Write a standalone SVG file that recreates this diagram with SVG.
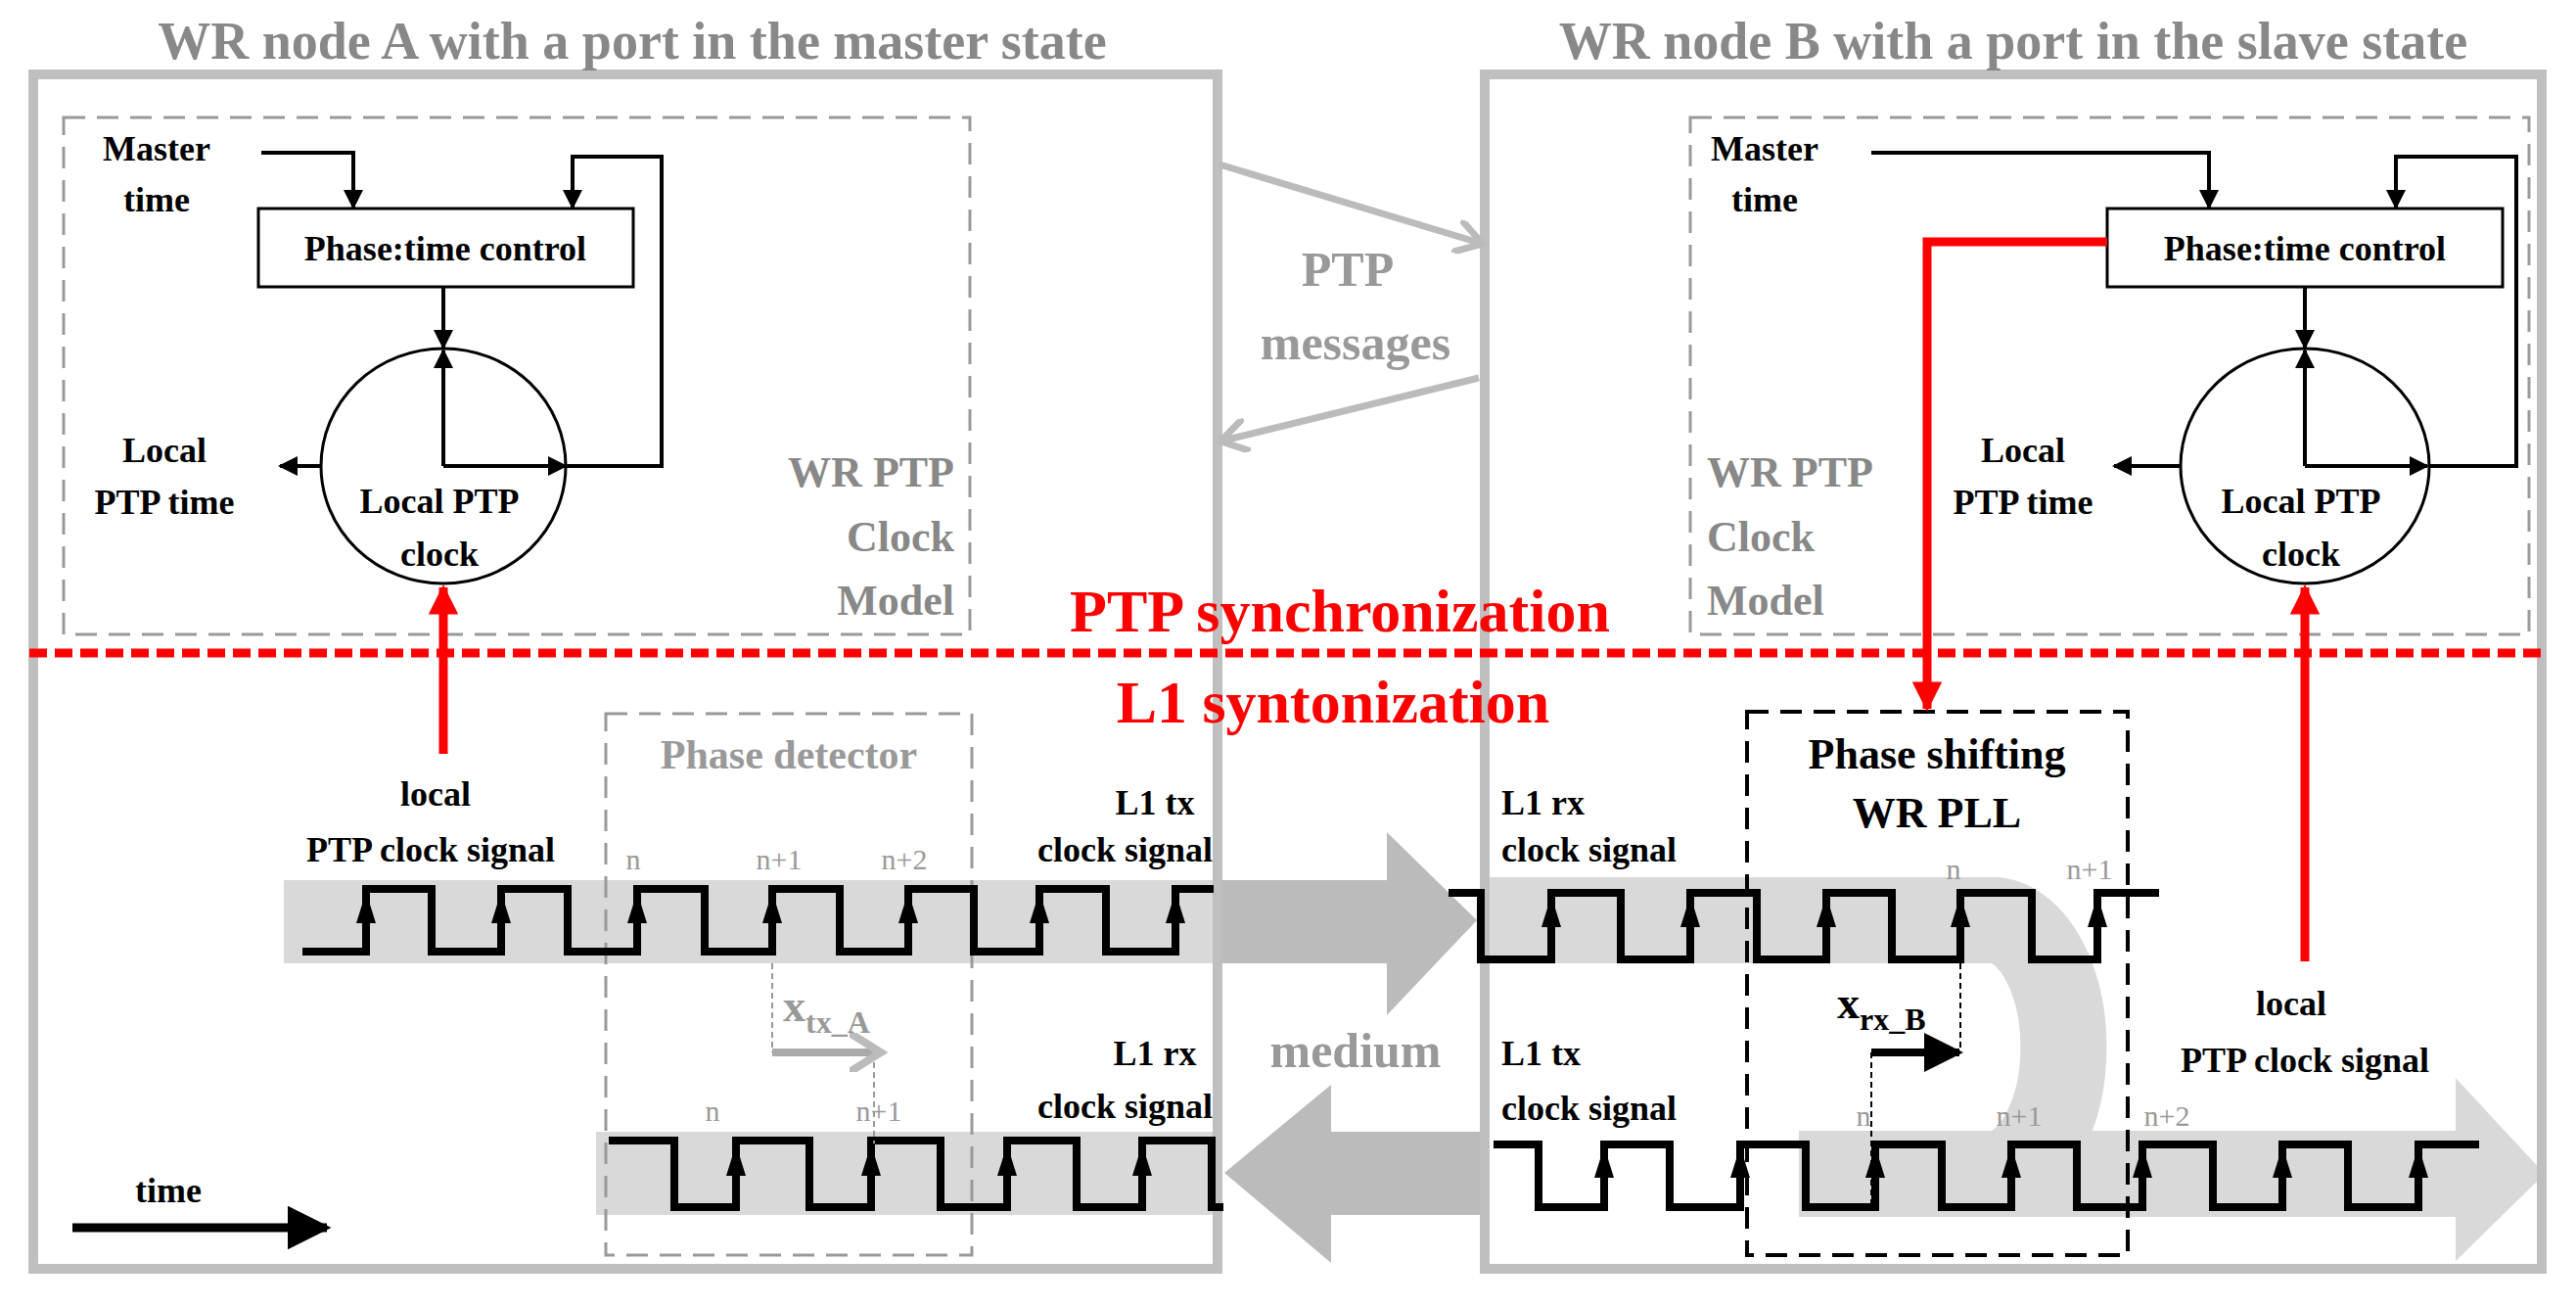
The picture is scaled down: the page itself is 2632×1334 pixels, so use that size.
<svg xmlns="http://www.w3.org/2000/svg" width="2632" height="1334" viewBox="0 0 2632 1334">
<defs>
<style>
text{font-family:"Liberation Serif","Times New Roman",serif;font-weight:bold}
.t{font-size:36px;fill:#000}
.g{font-size:44px;fill:#888}
.s{font-size:30px;fill:#999;font-weight:normal}
.red{fill:#f00;font-size:62px}
.blk{stroke:#000;stroke-width:4;fill:none}
.wave{stroke:#000;stroke-width:8;fill:none;stroke-linejoin:miter}
</style>
<marker id="ah" viewBox="0 0 10 10" refX="9" refY="5" markerWidth="5" markerHeight="5" orient="auto"><path d="M0 0L10 5L0 10Z" fill="#000"/></marker>
<marker id="ahg" viewBox="0 0 10 10" refX="6" refY="5" markerWidth="5" markerHeight="5" orient="auto"><path d="M0 0L8 5L0 10" fill="none" stroke="#bbb" stroke-width="2"/></marker>
<marker id="ahr" viewBox="0 0 10 10" refX="9" refY="5" markerWidth="3.4" markerHeight="3.4" orient="auto"><path d="M0 0L10 5L0 10Z" fill="#f00"/></marker>
<path id="up" d="M0 -24L-10 8L10 8Z" fill="#000"/>
</defs>
<rect width="2632" height="1334" fill="#fff"/>

<g id="bands">
<rect x="290" y="899" width="956" height="85" fill="#d9d9d9"/>
<path d="M1517 940H2040A75 130 0 0 1 2040 1199" fill="none" stroke="#d9d9d9" stroke-width="88"/>
<rect x="1838" y="1155" width="672" height="88" fill="#d9d9d9"/>
<path d="M2509 1101L2600 1199L2509 1288Z" fill="#d9d9d9"/>
<rect x="609" y="1156" width="637" height="85" fill="#d9d9d9"/>
<path d="M1246 899H1417V850L1509 940L1417 1037V984H1246Z" fill="#bbb"/>
<path d="M1517 1156H1360V1108L1251 1198L1360 1290V1241H1517Z" fill="#bbb"/>
</g>

<g id="nodeA">
<rect x="34" y="76" width="1210" height="1220" fill="none" stroke="#bfbfbf" stroke-width="10"/>
<text x="646" y="60" text-anchor="middle" style="font-size:54px;fill:#888">WR node A with a port in the master state</text>
</g>
<g id="nodeB">
<rect x="1517" y="76" width="1080" height="1220" fill="none" stroke="#bfbfbf" stroke-width="10"/>
<text x="2057" y="60" text-anchor="middle" style="font-size:54px;fill:#888">WR node B with a port in the slave state</text>
</g>

<g id="modelA">
<rect x="65" y="120" width="926" height="528" fill="none" stroke="#999" stroke-width="3" stroke-dasharray="22,12"/>
<text class="t" x="160" y="164" text-anchor="middle">Master</text>
<text class="t" x="160" y="216" text-anchor="middle">time</text>
<rect x="264" y="213" width="383" height="80" fill="#fff" stroke="#000" stroke-width="3"/>
<text class="t" x="455" y="266" text-anchor="middle">Phase:time control</text>
<ellipse cx="453" cy="476" rx="125" ry="120" fill="none" stroke="#000" stroke-width="3"/>
<text class="t" x="449" y="524" text-anchor="middle">Local PTP</text>
<text class="t" x="449" y="578" text-anchor="middle">clock</text>
<text class="t" x="168" y="472" text-anchor="middle">Local</text>
<text class="t" x="168" y="525" text-anchor="middle">PTP time</text>
<text class="g" x="975" y="497" text-anchor="end">WR PTP</text>
<text class="g" x="975" y="563" text-anchor="end">Clock</text>
<text class="g" x="975" y="628" text-anchor="end">Model</text>
</g>

<g id="modelB">
<rect x="1727" y="120" width="857" height="528" fill="none" stroke="#999" stroke-width="3" stroke-dasharray="22,12"/>
<text class="t" x="1803" y="164" text-anchor="middle">Master</text>
<text class="t" x="1803" y="216" text-anchor="middle">time</text>
<rect x="2153" y="213" width="404" height="80" fill="#fff" stroke="#000" stroke-width="3"/>
<text class="t" x="2355" y="266" text-anchor="middle">Phase:time control</text>
<ellipse cx="2355" cy="476" rx="127" ry="120" fill="none" stroke="#000" stroke-width="3"/>
<text class="t" x="2351" y="524" text-anchor="middle">Local PTP</text>
<text class="t" x="2351" y="578" text-anchor="middle">clock</text>
<text class="t" x="2067" y="472" text-anchor="middle">Local</text>
<text class="t" x="2067" y="525" text-anchor="middle">PTP time</text>
<text class="g" x="1744" y="497">WR PTP</text>
<text class="g" x="1744" y="563">Clock</text>
<text class="g" x="1744" y="628">Model</text>
</g>

<g id="labels">
<text x="1377" y="292" text-anchor="middle" style="font-size:50px;fill:#999">PTP</text>
<text x="1385" y="367" text-anchor="middle" style="font-size:50px;fill:#999">messages</text>
<text x="1385" y="1090" text-anchor="middle" style="font-size:50px;fill:#999">medium</text>
<text class="red" x="1369" y="645" text-anchor="middle">PTP synchronization</text>
<text class="red" x="1362" y="738" text-anchor="middle">L1 syntonization</text>
<text class="t" x="445" y="823" text-anchor="middle">local</text>
<text class="t" x="440" y="880" text-anchor="middle">PTP clock signal</text>
<text class="t" x="1180" y="832" text-anchor="middle">L1 tx</text>
<text class="t" x="1239" y="880" text-anchor="end">clock signal</text>
<text class="t" x="1180" y="1088" text-anchor="middle">L1 rx</text>
<text class="t" x="1239" y="1142" text-anchor="end">clock signal</text>
<text class="t" x="1534" y="832">L1 rx</text>
<text class="t" x="1534" y="880">clock signal</text>
<text class="t" x="1534" y="1088">L1 tx</text>
<text class="t" x="1534" y="1144">clock signal</text>
<text class="t" x="2341" y="1037" text-anchor="middle">local</text>
<text class="t" x="2355" y="1095" text-anchor="middle">PTP clock signal</text>
<text class="t" x="172" y="1228" text-anchor="middle">time</text>
<text class="s" x="647" y="888" text-anchor="middle">n</text>
<text class="s" x="796" y="888" text-anchor="middle">n+1</text>
<text class="s" x="924" y="888" text-anchor="middle">n+2</text>
<text class="s" x="728" y="1145" text-anchor="middle">n</text>
<text class="s" x="898" y="1145" text-anchor="middle">n+1</text>
<text class="s" x="1996" y="898" text-anchor="middle">n</text>
<text class="s" x="2135" y="898" text-anchor="middle">n+1</text>
<text class="s" x="1904" y="1150" text-anchor="middle">n</text>
<text class="s" x="2063" y="1150" text-anchor="middle">n+1</text>
<text class="s" x="2214" y="1150" text-anchor="middle">n+2</text>
<text x="800" y="1043" style="font-size:46px;fill:#999">x<tspan dy="12" style="font-size:32px">tx_A</tspan></text>
<text x="1877" y="1040" style="font-size:46px;fill:#000">x<tspan dy="12" style="font-size:32px">rx_B</tspan></text>
</g>

<g id="detectors">
<rect x="619" y="729" width="374" height="553" fill="none" stroke="#999" stroke-width="3" stroke-dasharray="22,12"/>
<text x="806" y="785" text-anchor="middle" style="font-size:42px;fill:#999">Phase detector</text>
<rect x="1785" y="727" width="389" height="555" fill="none" stroke="#000" stroke-width="4" stroke-dasharray="22,12"/>
<text class="t" x="1979" y="785" text-anchor="middle" style="font-size:44px">Phase shifting</text>
<text class="t" x="1979" y="845" text-anchor="middle" style="font-size:44px">WR PLL</text>
</g>

<g id="waves">
<path class="wave" d="M309 972H374V908H441V972H512V908H580V972H651V908H720V972H789V908H858V972H928V908H995V972H1062V908H1130V972H1201V908H1240"/>
<path class="wave" d="M1480 912H1513V980H1585V912H1656V980H1727V912H1795V980H1866V912H1933V980H2003V912H2076V980H2143V912H2206"/>
<path class="wave" d="M622 1165H689V1233H752V1165H827V1233H890V1165H961V1233H1029V1165H1100V1233H1167V1165H1238V1233H1250"/>
<path class="wave" d="M1526 1169H1572V1233H1639V1169H1706V1233H1778V1169H1845V1233H1916V1169H1984V1233H2055V1169H2122V1233H2189V1169H2261V1233H2332V1169H2399V1233H2471V1169H2533"/>
<use href="#up" x="374" y="935"/><use href="#up" x="512" y="935"/><use href="#up" x="651" y="935"/><use href="#up" x="789" y="935"/><use href="#up" x="928" y="935"/><use href="#up" x="1062" y="935"/><use href="#up" x="1201" y="935"/>
<use href="#up" x="1585" y="939"/><use href="#up" x="1727" y="939"/><use href="#up" x="1866" y="939"/><use href="#up" x="2003" y="939"/><use href="#up" x="2143" y="939"/>
<use href="#up" x="752" y="1193"/><use href="#up" x="890" y="1193"/><use href="#up" x="1029" y="1193"/><use href="#up" x="1167" y="1193"/>
<use href="#up" x="1639" y="1195"/><use href="#up" x="1778" y="1195"/><use href="#up" x="1916" y="1195"/><use href="#up" x="2055" y="1195"/><use href="#up" x="2189" y="1195"/><use href="#up" x="2332" y="1195"/><use href="#up" x="2471" y="1195"/>
</g>

<g id="connectors">
<path d="M1246 168L1508 247" stroke="#bbb" stroke-width="7" fill="none" marker-end="url(#ahg)"/>
<path d="M1511 386L1254 449" stroke="#bbb" stroke-width="7" fill="none" marker-end="url(#ahg)"/>
<path class="blk" d="M267 156H361V212" marker-end="url(#ah)"/>
<path class="blk" d="M579 476H676V160H585V212" marker-end="url(#ah)"/>
<path class="blk" d="M453 293V355" marker-end="url(#ah)"/>
<path class="blk" d="M453 476V358" marker-end="url(#ah)"/>
<path class="blk" d="M453 476H578" marker-end="url(#ah)"/>
<path class="blk" d="M328 476H286" marker-end="url(#ah)"/>
<path class="blk" d="M1912 156H2257V212" marker-end="url(#ah)"/>
<path class="blk" d="M2482 476H2571V160H2448V212" marker-end="url(#ah)"/>
<path class="blk" d="M2355 293V355" marker-end="url(#ah)"/>
<path class="blk" d="M2355 476V358" marker-end="url(#ah)"/>
<path class="blk" d="M2355 476H2480" marker-end="url(#ah)"/>
<path class="blk" d="M2228 476H2160" marker-end="url(#ah)"/>
<path d="M30 667H2600" stroke="#f00" stroke-width="9" stroke-dasharray="18,8"/>
<path d="M453 770V600" stroke="#f00" stroke-width="9" fill="none" marker-end="url(#ahr)"/>
<path d="M2355 982V600" stroke="#f00" stroke-width="9" fill="none" marker-end="url(#ahr)"/>
<path d="M2153 247H1969V724" stroke="#f00" stroke-width="9" fill="none" marker-end="url(#ahr)"/>
<path d="M74 1254H334" stroke="#000" stroke-width="9" fill="none" marker-end="url(#ah)"/>
<path d="M789 984V1075M893 1075V1168" stroke="#999" stroke-width="2" stroke-dasharray="6,4"/>
<path d="M789 1075H892" stroke="#aaa" stroke-width="8" fill="none" marker-end="url(#ahg)"/>
<path d="M2003 984V1075M1912 1075V1233" stroke="#000" stroke-width="2" stroke-dasharray="6,4"/>
<path d="M1912 1075H2002" stroke="#000" stroke-width="8" fill="none" marker-end="url(#ah)"/>
</g>
</svg>
